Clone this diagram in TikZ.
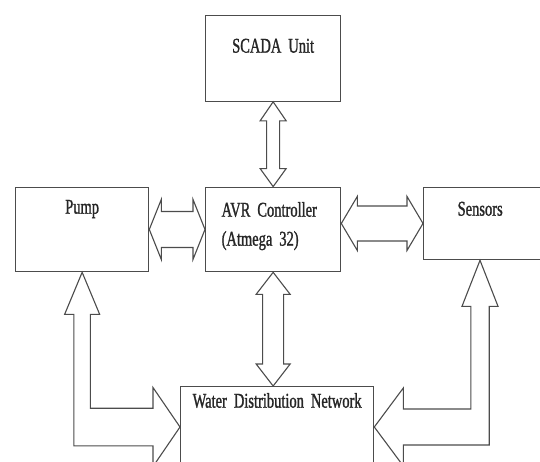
\documentclass[tikz,border=0pt]{standalone}
\usepackage{fontspec}
\setmainfont[FakeStretch=0.69, FakeBold=1.2]{Liberation Serif}
\usetikzlibrary{calc}

\begin{document}
\begin{tikzpicture}[x=1pt, y=-1pt,
                    block/.style={rectangle, draw=black!70, line width=1.3pt, inner sep=0pt, anchor=north west, align=center, text=black!85, font=\fontsize{21}{29}\selectfont},
                    fat_arrow/.style={draw=black!70, line width=1.1pt, fill=white, line join=miter}
                ]
    \useasboundingbox (0,0) rectangle (540,461);
    \clip (0,0) rectangle (540,461);

    % blocks
    \node[block, text width=135pt, text height=37.5pt, text depth=48.5pt] (scada) at (205,14.5) {SCADA Unit};
    \node[block, align=left, inner xsep=16pt, text width=103pt, text height=29.4pt, text depth=55pt] (avr) at (205,186.6) {AVR Controller\\(Atmega 32)};
    \node[block, text width=133pt, text height=26.4pt, text depth=58pt] (pump) at (15,186.6) {Pump};
    \node[block, align=left, inner xsep=34pt, text width=69pt, text height=28.4pt, text depth=44pt] (sensors) at (423,186.6) {Sensors};
    \node[block, text width=193pt, text height=21pt, text depth=80pt] (wdn) at (180,386) {Water Distribution Network};

    % scada <-> avr
    \draw[fat_arrow] (scada.south) -- ++(13,19) -- ++(-6.5,0) -- ($(avr.north)+(6.5,-18)$) -- ++(6.5,0) -- (avr.north)
        -- ++(-13,-18) -- ++(6.5,0) -- ($(scada.south)+(-6.5,19)$) -- ++(-6.5,0) -- cycle;

    % pump <-> avr
    \draw[fat_arrow] (pump.east) -- ++(12,-30) -- ++(0,12) -- ($(avr.west)+(-12,-18)$) -- ++(0,-12) -- (avr.west)
        -- ++(-12,30) -- ++(0,-12) -- ($(pump.east)+(12,18)$) -- ++(0,12) -- cycle;

    % avr <-> sensors
    \coordinate (avr_right) at (avr.east |- sensors.west);
    \draw[fat_arrow] (avr_right) -- ++(16,-27) -- ++(0,9.5) -- ($(sensors.west)+(-16,-17.5)$) -- ++(0,-9.5) -- (sensors.west)
        -- ++(-16,27) -- ++(0,-9.5) -- ($(avr_right)+(16,17.5)$) -- ++(0,9.5) -- cycle;

    % avr <-> wdn
    \coordinate (wdn_top) at (avr.south |- wdn.north);
    \draw[fat_arrow] (avr.south) -- ++(17,22) -- ++(-6.5,0) -- ($(wdn_top)+(10.5,-22)$) -- ++(6.5,0) -- (wdn_top)
        -- ++(-17,-22) -- ++(6.5,0) -- ($(avr.south)+(-10.5,22)$) -- ++(-6.5,0) -- cycle;

    % pump <-> wdn
    \coordinate (pump_tip) at (pump.south);
    \coordinate (wdn_left) at ($(wdn.north west)+(0,41)$);
    \coordinate (pump_bend) at (pump_tip |- wdn_left);
    \draw[fat_arrow] (pump_tip) -- ++(17.5,42) -- ++(-9.25,0) -- ($(pump_bend)+(8.25,-18.8)$) -- ($(wdn_left)+(-27,-18.8)$)
        -- ++(0,-20.7) -- (wdn_left) -- ++(-27,39.5) -- ++(0,-20.7) -- ($(pump_bend)+(-8.25,18.8)$)
        -- ($(pump_tip)+(-8.25,42)$) -- ++(-9.25,0) -- cycle;

    % sensors <-> wdn
    \coordinate (sens_tip) at ($(sensors.south west)+(57,0)$);
    \coordinate (wdn_right) at ($(wdn.north east)+(0,41)$);
    \coordinate (sens_bend) at (sens_tip |- wdn_right);
    \draw[fat_arrow] (sens_tip) -- ++(-18,46) -- ++(8.8,0) -- ($(sens_bend)+(-9.2,-18)$) -- ($(wdn_right)+(29,-18)$)
        -- ++(0,-21) -- (wdn_right) -- ++(29,39) -- ++(0,-21) -- ($(sens_bend)+(9.2,18)$)
        -- ($(sens_tip)+(9.2,46)$) -- ++(8.8,0) -- cycle;
\end{tikzpicture}
\end{document}
